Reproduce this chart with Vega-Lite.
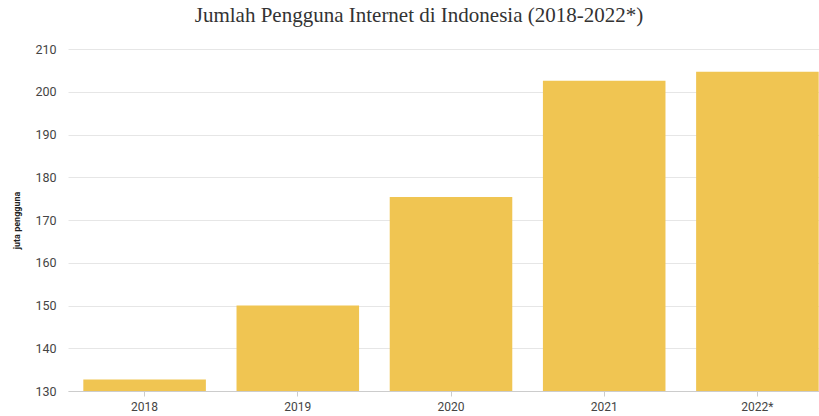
{
  "$schema": "https://vega.github.io/schema/vega-lite/v6.json",
  "autosize": "none",
  "padding": {"left": 68, "top": 49, "right": 0, "bottom": 25},
  "width": 766,
  "height": 342,
  "background": "#ffffff",
  "title": {
    "text": "Jumlah Pengguna Internet di Indonesia (2018-2022*)",
    "font": "Liberation Serif",
    "fontSize": 21,
    "fontWeight": "normal",
    "color": "#333333",
    "anchor": "middle",
    "dx": -32,
    "offset": 17
  },
  "data": {
    "values": [
      {"tahun": "2018", "pengguna": 132.7},
      {"tahun": "2019", "pengguna": 150.0},
      {"tahun": "2020", "pengguna": 175.4},
      {"tahun": "2021", "pengguna": 202.6},
      {"tahun": "2022*", "pengguna": 204.7}
    ]
  },
  "mark": {"type": "bar", "color": "#F0C552", "clip": true},
  "encoding": {
    "x": {
      "field": "tahun",
      "type": "nominal",
      "sort": null,
      "scale": {"paddingInner": 0.2, "paddingOuter": 0.1},
      "axis": {
        "title": null,
        "labelAngle": 0,
        "labelFont": "Roboto",
        "labelFontSize": 12,
        "labelColor": "#444444",
        "labelPadding": 5,
        "domainColor": "#cccccc",
        "tickColor": "#cccccc",
        "tickSize": 5
      }
    },
    "y": {
      "field": "pengguna",
      "type": "quantitative",
      "scale": {"domain": [130, 210], "zero": false, "nice": false},
      "axis": {
        "title": "juta pengguna",
        "titleFont": "Roboto",
        "titleFontSize": 9,
        "titleFontWeight": "bold",
        "titleColor": "#222222",
        "titlePadding": 13,
        "values": [130, 140, 150, 160, 170, 180, 190, 200, 210],
        "labelFont": "Roboto",
        "labelFontSize": 12.5,
        "labelColor": "#444444",
        "labelPadding": 12,
        "domain": false,
        "ticks": false,
        "gridColor": "#e6e6e6"
      }
    }
  },
  "config": {"view": {"stroke": null}}
}
